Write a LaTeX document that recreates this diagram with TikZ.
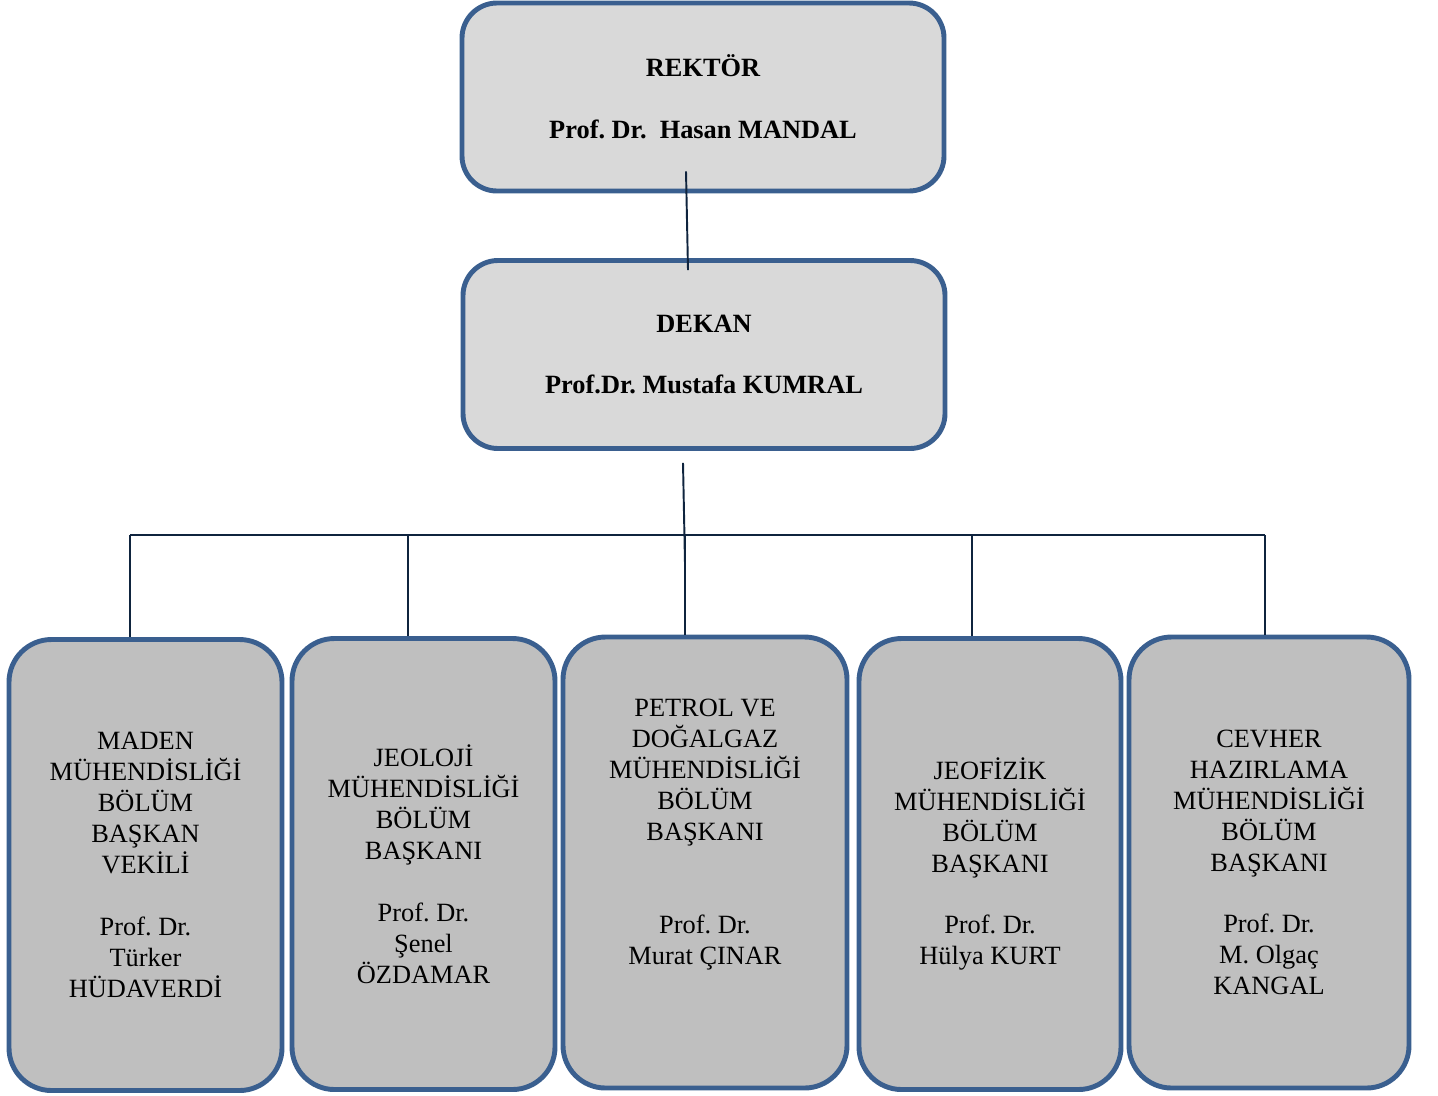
\documentclass[tikz,border=0pt]{standalone}
\usepackage{fontspec}
\setmainfont{Liberation Serif}
\usepackage{tikz}
\usetikzlibrary{calc}
\definecolor{boxblue}{HTML}{3A5F8F}
\definecolor{lightfill}{HTML}{D9D9D9}
\definecolor{darkfill}{HTML}{BFBFBF}
\definecolor{linenavy}{HTML}{0F243E}
\frenchspacing

\begin{document}
\begin{tikzpicture}
			\tikzstyle{head}=[rectangle,rounded corners=0.7cm,draw=boxblue,line width=2.8pt,fill=lightfill,minimum width=9.64cm,minimum height=3.76cm,align=center,font=\fontsize{15}{17.6}\selectfont\bfseries]
			\tikzstyle{dept}=[rectangle,rounded corners=0.85cm,draw=boxblue,line width=2.8pt,fill=darkfill,minimum height=9.02cm,align=center,font=\fontsize{15}{17.6}\selectfont]
			\tikzstyle{conn}=[draw=linenavy,line width=1.1pt]
			\useasboundingbox (0,0) rectangle (28.76,-21.9);
			\node (rektor)[head] at (14.06,-1.94) {REKT\"OR\\[\baselineskip]Prof. Dr.~ Hasan MANDAL};
			\node (dekan)[head] at (14.08,-7.09) {DEKAN\\[\baselineskip]Prof.Dr. Mustafa KUMRAL};
			\node (b1)[dept,minimum width=5.46cm] at (2.91,-17.3) {MADEN\\MÜHENDİSLİĞİ\\BÖLÜM\\BAŞKAN\\VEKİLİ\\[\baselineskip]Prof. Dr.\\Türker\\HÜDAVERDİ};
			\node (b2)[dept,minimum width=5.26cm] at (8.47,-17.28) {JEOLOJİ\\MÜHENDİSLİĞİ\\BÖLÜM\\BAŞKANI\\[\baselineskip]Prof. Dr.\\Şenel\\ÖZDAMAR};
			\node (b3)[dept,minimum width=5.68cm] at (14.1,-17.25) {PETROL VE\\DOĞALGAZ\\MÜHENDİSLİĞİ\\BÖLÜM\\BAŞKANI\\[2\baselineskip]Prof. Dr.\\Murat ÇINAR\\[\baselineskip]\mbox{}};
			\node (b4)[dept,minimum width=5.24cm] at (19.8,-17.28) {JEOFİZİK\\MÜHENDİSLİĞİ\\BÖLÜM\\BAŞKANI\\[\baselineskip]Prof. Dr.\\Hülya KURT};
			\node (b5)[dept,minimum width=5.6cm] at (25.38,-17.25) {CEVHER\\HAZIRLAMA\\MÜHENDİSLİĞİ\\BÖLÜM\\BAŞKANI\\[\baselineskip]Prof. Dr.\\M. Olgaç\\KANGAL};
			
			\coordinate (bar) at (0,-10.7);
			\coordinate (t1) at ([xshift=-0.31cm]b1.north);
			\coordinate (t2) at ([xshift=-0.31cm]b2.north);
			\coordinate (t3) at ([xshift=-0.40cm]b3.north);
			\coordinate (t4) at ([xshift=-0.36cm]b4.north);
			\coordinate (t5) at ([xshift=-0.08cm]b5.north);
			\coordinate (rk) at ([shift={(-0.34,0.44)}]rektor.south);
			\coordinate (dk) at ([shift={(-0.42,-0.24)}]dekan.south);
			
			\draw[conn] (rk) -- ([shift={(-0.32,-0.24)}]dekan.north);
			\draw[conn] (dk) -- ++(0.04,-2.02);
			\draw[conn] (t1 |- bar) -- (t5 |- bar);
			\foreach \t in {t1,t2,t3,t4,t5}
				\draw[conn] (\t |- bar) -- (\t);
		\end{tikzpicture}
\end{document}
